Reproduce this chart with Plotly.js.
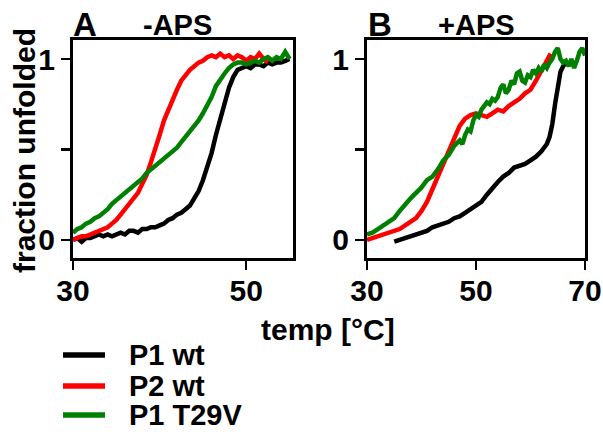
<!DOCTYPE html>
<html>
<head>
<meta charset="utf-8">
<script src="https://cdn.plot.ly/plotly-3.0.1.min.js"></script>
<style>html,body{margin:0;padding:0;background:#fff;}#chart{width:603px;height:435px;}</style>
</head>
<body>
<div id="chart"></div>
<script>
// ---- data ----
const seriesNames = ["P1 wt", "P2 wt", "P1 T29V"];
const seriesColors = ["#000000", "#ff0000", "#008000"];

// Panel A (-APS)
const blackA_T = [30,30.5,31,31.5,32,32.5,33,33.5,34,34.5,35,35.5,36,36.5,37,37.5,38,38.5,39,39.5,40,40.5,41,41.5,42,42.5,43,43.5,44,44.5,45,45.5,46,46.5,47,47.5,48,48.5,49,49.5,50,50.5,51,51.5,52,52.5,53,53.5,54,54.5,55];
const blackA_f = [0.00,0.01,-0.01,0.01,0.01,0.02,0.03,0.02,0.03,0.02,0.03,0.04,0.03,0.05,0.05,0.04,0.06,0.06,0.07,0.07,0.08,0.09,0.11,0.12,0.14,0.15,0.17,0.19,0.23,0.27,0.33,0.40,0.48,0.58,0.67,0.76,0.84,0.90,0.94,0.95,0.96,0.95,0.97,0.97,0.96,0.98,0.97,0.98,0.98,0.99,1.00];
const redA_T = [30,30.5,31,31.5,32,32.5,33,33.5,34,34.5,35,35.5,36,36.5,37,37.5,38,38.5,39,39.5,40,40.5,41,41.5,42,42.5,43,43.5,44,44.5,45,45.5,46,46.5,47,47.5,48,48.5,49,49.5,50,50.5,51,51.5,52,52.5];
const redA_f = [0.00,0.01,0.02,0.02,0.03,0.04,0.05,0.06,0.07,0.09,0.11,0.14,0.17,0.20,0.23,0.26,0.31,0.36,0.43,0.50,0.58,0.66,0.72,0.78,0.83,0.88,0.91,0.94,0.96,0.98,0.99,1.01,1.02,1.01,1.03,1.01,1.02,1.00,1.02,1.01,0.99,1.01,1.00,1.03,1.00,0.98];
const greenA_T = [30,30.5,31,31.5,32,32.5,33,33.5,34,34.5,35,35.5,36,36.5,37,37.5,38,38.5,39,39.5,40,40.5,41,41.5,42,42.5,43,43.5,44,44.5,45,45.5,46,46.5,47,47.5,48,48.5,49,49.5,50,50.5,51,51.5,52,52.5,53,53.5,54,54.5,55];
const greenA_f = [0.04,0.06,0.07,0.09,0.10,0.12,0.13,0.15,0.17,0.20,0.22,0.24,0.26,0.28,0.30,0.32,0.34,0.37,0.39,0.41,0.43,0.45,0.47,0.49,0.51,0.54,0.57,0.60,0.63,0.66,0.70,0.74,0.79,0.85,0.89,0.92,0.95,0.97,0.98,0.98,0.97,0.98,0.99,0.98,1.00,1.01,0.99,1.01,1.00,1.04,1.00];

// Panel B (+APS)
const blackB_T = [35,36,37,38,39,40,41,42,43,44,45,46,47,48,49,50,51,52,53,54,55,56,57,58,59,60,61,62,63,63.5,64,64.5,65,65.5,66,66.5,67];
const blackB_f = [-0.01,0.00,0.01,0.02,0.03,0.04,0.05,0.07,0.08,0.09,0.10,0.12,0.13,0.15,0.17,0.19,0.21,0.25,0.29,0.32,0.35,0.37,0.40,0.41,0.42,0.44,0.46,0.49,0.53,0.57,0.64,0.75,0.86,0.93,0.96,0.98,0.97];
const redB_T = [30,31,32,33,34,35,36,37,38,39,40,41,42,43,44,45,46,47,48,49,50,51,52,53,54,55,56,57,58,59,60,61,62,63,63.7];
const redB_f = [0.00,0.01,0.02,0.03,0.04,0.05,0.06,0.08,0.10,0.12,0.16,0.21,0.28,0.35,0.43,0.50,0.57,0.63,0.67,0.69,0.70,0.69,0.68,0.70,0.72,0.71,0.74,0.76,0.78,0.81,0.83,0.88,0.94,1.00,1.03];
const greenB_T = [30,31,32,33,34,35,36,37,38,39,40,41,42,43,44,45,46,47,47.5,48,48.5,49,49.5,50,50.5,51,51.5,52,52.5,53,53.5,54,54.5,55,55.5,56,56.5,57,57.5,58,58.5,59,59.5,60,60.5,61,61.5,62,62.5,63,63.5,64,64.5,65,65.5,66,66.5,67,67.5,68,68.5,69,69.5,70];
const greenB_f = [0.03,0.04,0.06,0.08,0.10,0.12,0.16,0.20,0.23,0.26,0.29,0.33,0.35,0.39,0.44,0.47,0.52,0.55,0.53,0.58,0.61,0.60,0.66,0.69,0.68,0.72,0.74,0.76,0.75,0.78,0.77,0.79,0.84,0.86,0.81,0.83,0.88,0.86,0.92,0.93,0.88,0.87,0.91,0.90,0.94,0.92,0.95,0.93,0.97,0.95,0.98,1.00,1.04,1.06,1.00,0.98,0.99,0.96,1.00,0.95,0.99,1.04,1.06,1.02];

const xTicksA = [30, 50];
const xTicksB = [30, 50, 70];
const yTicks = [0, 0.5, 1];
const yTickText = ["0", "", "1"];
const panelLetters = ["A", "B"];
const panelTitles = ["-APS", "+APS"];
const xTitle = "temp [°C]";
const yTitle = "fraction unfolded";

// ---- layout helpers ----
const W = 603, H = 435;
const fx = p => p / W;
const fy = p => 1 - p / H;
const FONT = "Liberation Sans, Arial, Helvetica, sans-serif";
const LW = 4.5;

function tr(x, y, i, xa, ya) {
  return {x: x, y: y, type: "scatter", mode: "lines", xaxis: xa, yaxis: ya,
    line: {color: seriesColors[i], width: LW}, showlegend: false, hoverinfo: "skip"};
}

const data = [
  tr(blackA_T, blackA_f, 0, "x", "y"),
  tr(redA_T, redA_f, 1, "x", "y"),
  tr(greenA_T, greenA_f, 2, "x", "y"),
  tr(blackB_T, blackB_f, 0, "x2", "y2"),
  tr(redB_T, redB_f, 1, "x2", "y2"),
  tr(greenB_T, greenB_f, 2, "x2", "y2")
];

const axisCommon = {
  showline: true, linecolor: "#000", linewidth: 3, mirror: true,
  showgrid: false, zeroline: false,
  ticks: "outside", ticklen: 9, tickwidth: 2.5, tickcolor: "#000",
  tickfont: {family: FONT, size: 30, color: "#000", weight: "bold"}
};
const yDom = [fy(258), fy(40)];

const annotations = [
  {text: panelLetters[0], x: fx(71), y: fy(24), xanchor: "left", yanchor: "middle", font: {size: 33}},
  {text: panelTitles[0], x: fx(177), y: fy(25), xanchor: "center", yanchor: "middle", font: {size: 29}},
  {text: panelLetters[1], x: fx(366), y: fy(24), xanchor: "left", yanchor: "middle", font: {size: 33}},
  {text: panelTitles[1], x: fx(477), y: fy(25), xanchor: "center", yanchor: "middle", font: {size: 29}},
  {text: xTitle, x: fx(328), y: fy(329), xanchor: "center", yanchor: "middle", font: {size: 30}},
  {text: yTitle, x: fx(25), y: fy(151), xanchor: "center", yanchor: "middle", textangle: -90, font: {size: 30}}
];
const legendY = [355, 386, 415];
const shapes = [];
seriesNames.forEach((n, i) => {
  annotations.push({text: n, x: fx(127), y: fy(legendY[i]), xanchor: "left", yanchor: "middle", font: {size: 29}});
  shapes.push({type: "line", xref: "paper", yref: "paper", x0: fx(63), x1: fx(105),
    y0: fy(legendY[i]), y1: fy(legendY[i]), line: {color: seriesColors[i], width: 5.5}});
});
annotations.forEach(a => {
  a.xref = "paper"; a.yref = "paper"; a.showarrow = false;
  a.font = Object.assign({family: FONT, color: "#000", weight: "bold"}, a.font);
});

const layout = {
  width: W, height: H,
  margin: {l: 0, r: 0, t: 0, b: 0},
  paper_bgcolor: "#fff", plot_bgcolor: "#fff",
  showlegend: false,
  font: {family: FONT, color: "#000"},
  xaxis: Object.assign({}, axisCommon, {domain: [fx(73), fx(293)], range: [30, 55.4], tickvals: xTicksA, anchor: "y", ticklabelstandoff: -5}),
  yaxis: Object.assign({}, axisCommon, {domain: yDom, range: [-0.1, 1.105], tickvals: yTicks, ticktext: yTickText, anchor: "x"}),
  xaxis2: Object.assign({}, axisCommon, {domain: [fx(367), fx(585)], range: [30, 70], tickvals: xTicksB, anchor: "y2", ticklabelstandoff: -5}),
  yaxis2: Object.assign({}, axisCommon, {domain: yDom, range: [-0.1, 1.105], tickvals: yTicks, ticktext: yTickText, anchor: "x2"}),
  annotations: annotations,
  shapes: shapes
};

Plotly.newPlot("chart", data, layout, {staticPlot: true, displayModeBar: false});
</script>
</body>
</html>
